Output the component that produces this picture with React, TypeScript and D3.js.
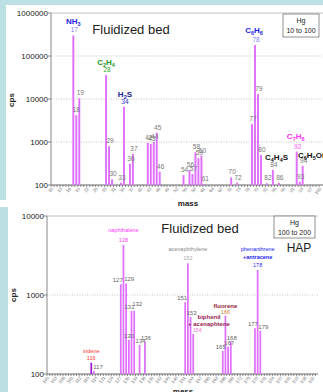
import React from "react";
import * as d3 from "d3";

// ---------- Top panel data (Hg 10 to 100) ----------
const topMasses = [17, 18, 19, 28, 29, 30, 33, 34, 36, 37, 42, 43, 44, 45, 46, 54, 56, 57, 58, 59, 60, 61, 70, 72, 77, 78, 79, 80, 82, 84, 86, 92, 93, 94];
const topValues = [300000, 4200, 10400, 36000, 800, 135, 113, 6600, 310, 525, 960, 900, 1000, 1650, 205, 170, 225, 180, 575, 420, 480, 104, 150, 113, 2600, 180000, 13000, 500, 110, 225, 113, 600, 120, 280];
const topLabelColors: Record<number, string> = { 17: "#8080ff", 28: "#33aa33", 34: "#3333cc", 78: "#8080ff", 92: "#ff55ff" };
const topCategories = d3.range(10, 101);
const topTickLabels = d3.range(10, 101, 3);
const topYTicks = [100, 1000, 10000, 100000, 1000000];

// ---------- Bottom panel data (Hg 100 to 200, HAP) ----------
const botMasses = [116, 117, 127, 128, 129, 130, 131, 132, 134, 136, 151, 152, 153, 154, 165, 166, 167, 168, 177, 178, 179];
const botValues = [139, 109, 1370, 4300, 1400, 270, 630, 630, 233, 252, 810, 2520, 530, 320, 196, 550, 222, 256, 380, 2070, 353];
const botCategories = d3.range(100, 201);
const botTickLabels = d3.range(100, 201, 3);
const botYTicks = [100, 1000, 10000];

const BAR = "#e070ff";
const FONT = "'Liberation Sans', Arial, sans-serif";

export default function App() {
  const W = 323, H = 392;

  const xT = d3.scaleBand<number>().domain(topCategories).range([51, 322]).paddingInner(0.35).paddingOuter(0.17);
  const yT = d3.scaleLog().domain([100, 1000000]).range([185, 13]);
  const xB = d3.scaleBand<number>().domain(botCategories).range([47, 318]).paddingInner(0.35).paddingOuter(0.17);
  const yB = d3.scaleLog().domain([100, 10000]).range([374, 216]);

  const cT = (m: number) => (xT(m) as number) + xT.bandwidth() / 2;
  const cB = (m: number) => (xB(m) as number) + xB.bandwidth() / 2;

  const renderAxes = (
    x: d3.ScaleBand<number>, y: d3.ScaleLogarithmic<number, number>, cats: number[], ticks: number[], yTicks: number[],
    x0: number, x1: number, labelX: number
  ) => {
    const [yb, yt] = y.range();
    const step = x.step();
    const start = (x(cats[0]) as number) - x.paddingInner() * step / 2;
    return (
      <g>
        {yTicks.slice(1, -1).map((t) => (
          <line key={"g" + t} x1={x0} x2={x1} y1={y(t)} y2={y(t)} stroke="#b8b8b8" strokeWidth={0.8} strokeDasharray="1,1.5" />
        ))}
        <line x1={x0} x2={x1} y1={yt} y2={yt} stroke="#b0b0b0" strokeWidth={0.8} />
        <line x1={x0} x2={x0} y1={yt} y2={yb} stroke="#888" strokeWidth={1} />
        {yTicks.map((t) => (
          <g key={"yt" + t}>
            <line x1={x0 - 3} x2={x0} y1={y(t)} y2={y(t)} stroke="#888" />
            <text x={labelX} y={y(t) + 3} fontSize={8} textAnchor="end" fill="#222" fontFamily={FONT}>{String(t)}</text>
          </g>
        ))}
        <line x1={x0} x2={x1} y1={yb} y2={yb} stroke="#666" strokeWidth={1} />
        {cats.map((c, i) => (
          <line key={"xt" + c} x1={start + i * step} x2={start + i * step} y1={yb} y2={yb + 2} stroke="#666" strokeWidth={0.7} />
        ))}
        {ticks.map((t) => {
          const cx = (x(t) as number) + x.bandwidth() / 2;
          return (
            <text key={"xl" + t} transform={`translate(${cx + 1},${yb + 4}) rotate(-50)`} fontSize={4.5} textAnchor="end" fill="#777" fontFamily={FONT}>{t}</text>
          );
        })}
      </g>
    );
  };

  const botDx: Record<number, number> = { 127: -3, 129: 3, 117: 4, 130: 0, 131: -2, 132: 3, 151: -3, 177: -2, 179: 3, 165: -2 };
  const botDy: Record<number, number> = { 132: -3 };

  return (
    <svg width={W} height={H} style={{ position: "absolute", left: 0, top: 0 }} fontFamily={FONT}>
      <rect x={0} y={0} width={W} height={H} fill="#bde0e4" />
      <rect x={6} y={5} width={W - 6} height={195} fill="#fff" />
      <rect x={0} y={200} width={W} height={7} fill="#fff" />
      <rect x={8} y={207} width={W - 8} height={H - 207} fill="#fff" />

      {/* ================= TOP PANEL ================= */}
      {renderAxes(xT, yT, topCategories, topTickLabels, topYTicks, 51, 323, 48)}
      {topMasses.map((m, i) => (
        <rect key={"tb" + m} x={xT(m)} y={yT(topValues[i])} width={xT.bandwidth()} height={185 - yT(topValues[i])} fill={BAR} />
      ))}
      {topMasses.map((m, i) => (
        <text key={"tl" + m} x={cT(m) + (m === 18 ? 0 : 1)} y={yT(topValues[i]) - 3} fontSize={6.5} textAnchor="middle" fill={topLabelColors[m] || "#777"}>{m}</text>
      ))}
      <text x={14} y={100} fontSize={8} fontWeight="bold" textAnchor="middle" transform="rotate(-90,14,100)" fill="#222">cps</text>
      <text x={188} y={206} fontSize={8} fontWeight="bold" textAnchor="middle" fill="#222">mass</text>
      <text x={131} y={34} fontSize={13} textAnchor="middle" fill="#222">Fluidized bed</text>
      <rect x={283} y={14} width={36} height={23} fill="#fff" stroke="#777" strokeWidth={0.8} />
      <text x={301} y={23} fontSize={7} textAnchor="middle" fill="#222">Hg</text>
      <text x={301} y={33} fontSize={7} textAnchor="middle" fill="#222">10 to 100</text>

      <text x={cT(17)} y={24} fontSize={8} fontWeight="bold" textAnchor="middle" fill="#2222dd">NH<tspan fontSize={5.5} dy={2}>3</tspan></text>
      <text x={cT(28)} y={65} fontSize={8} fontWeight="bold" textAnchor="middle" fill="#229922">C<tspan fontSize={5.5} dy={2}>2</tspan><tspan dy={-2}>H</tspan><tspan fontSize={5.5} dy={2}>4</tspan></text>
      <text x={cT(34) + 1} y={97} fontSize={8} fontWeight="bold" textAnchor="middle" fill="#222299">H<tspan fontSize={5.5} dy={2}>2</tspan><tspan dy={-2}>S</tspan></text>
      <text x={cT(78) - 1} y={33} fontSize={8} fontWeight="bold" textAnchor="middle" fill="#2222dd">C<tspan fontSize={5.5} dy={2}>6</tspan><tspan dy={-2}>H</tspan><tspan fontSize={5.5} dy={2}>6</tspan></text>
      <text x={265} y={160} fontSize={8} fontWeight="bold" fill="#111">C<tspan fontSize={5.5} dy={2}>4</tspan><tspan dy={-2}>H</tspan><tspan fontSize={5.5} dy={2}>4</tspan><tspan dy={-2}>S</tspan></text>
      <text x={cT(92) - 1} y={139} fontSize={8} fontWeight="bold" textAnchor="middle" fill="#ff33ff">C<tspan fontSize={5.5} dy={2}>7</tspan><tspan dy={-2}>H</tspan><tspan fontSize={5.5} dy={2}>8</tspan></text>
      <text x={298} y={158} fontSize={8} fontWeight="bold" fill="#111">C<tspan fontSize={5.5} dy={2}>6</tspan><tspan dy={-2}>H</tspan><tspan fontSize={5.5} dy={2}>5</tspan><tspan dy={-2}>OH</tspan></text>

      {/* ================= BOTTOM PANEL ================= */}
      {renderAxes(xB, yB, botCategories, botTickLabels, botYTicks, 47, 318, 44)}
      {botMasses.map((m, i) => (
        <rect key={"bb" + m} x={xB(m)} y={yB(botValues[i])} width={xB.bandwidth()} height={374 - yB(botValues[i])} fill={m === 116 ? "#9b19d9" : BAR} />
      ))}
      {botMasses.map((m, i) => {
        if ([116, 128, 152, 154, 166, 178].includes(m)) return null;
        const dx = botDx[m] !== undefined ? botDx[m] : 1;
        const dy = botDy[m] || 0;
        return (
          <text key={"bl" + m} x={cB(m) + dx} y={yB(botValues[i]) - 2 + dy} fontSize={6} textAnchor="middle" fill="#666">{m}</text>
        );
      })}
      <text x={cB(116)} y={360} fontSize={5.5} textAnchor="middle" fill="#ff3333">116</text>
      <text x={cB(116)} y={353} fontSize={5.5} textAnchor="middle" fill="#ff3333">indene</text>
      <text x={cB(128)} y={242} fontSize={5.5} textAnchor="middle" fill="#ff44ff">128</text>
      <text x={cB(128)} y={232} fontSize={5.5} textAnchor="middle" fill="#ff33ff">naphthalene</text>
      <text x={cB(152)} y={251} fontSize={5.5} textAnchor="middle" fill="#888">acenaphthylene</text>
      <text x={cB(152)} y={260} fontSize={5.5} textAnchor="middle" fill="#aaa">152</text>
      <text x={cB(178)} y={251} fontSize={5.5} textAnchor="middle" fill="#2222ee">phenanthrene</text>
      <text x={cB(178)} y={259} fontSize={5.5} fontWeight="bold" textAnchor="middle" fill="#2222ee">+antracene</text>
      <text x={cB(178)} y={267} fontSize={5.5} textAnchor="middle" fill="#3333ff">178</text>
      <text x={cB(166)} y={308} fontSize={6} fontWeight="bold" textAnchor="middle" fill="#992233">fluorene</text>
      <text x={cB(166)} y={314} fontSize={5.5} textAnchor="middle" fill="#cc7733">166</text>
      <text x={209} y={319} fontSize={6} fontWeight="bold" textAnchor="middle" fill="#992255">biphenil</text>
      <text x={209} y={326} fontSize={6} fontWeight="bold" textAnchor="middle" fill="#992255">+ acenaphtene</text>
      <text x={cB(154) + 4} y={332} fontSize={5.5} textAnchor="middle" fill="#ff77cc">154</text>

      <text x={16} y={295} fontSize={8} fontWeight="bold" textAnchor="middle" transform="rotate(-90,16,295)" fill="#222">cps</text>
      <text x={183} y={394} fontSize={8} fontWeight="bold" textAnchor="middle" fill="#222">mass</text>
      <text x={200} y={233} fontSize={13} textAnchor="middle" fill="#222">Fluidized bed</text>
      <rect x={274} y={216} width={41} height={22} fill="#fff" stroke="#777" strokeWidth={0.8} />
      <text x={294.5} y={225} fontSize={7} textAnchor="middle" fill="#222">Hg</text>
      <text x={294.5} y={235} fontSize={7} textAnchor="middle" fill="#222">100 to 200</text>
      <text x={299} y={252} fontSize={12} textAnchor="middle" fill="#222">HAP</text>
    </svg>
  );
}
